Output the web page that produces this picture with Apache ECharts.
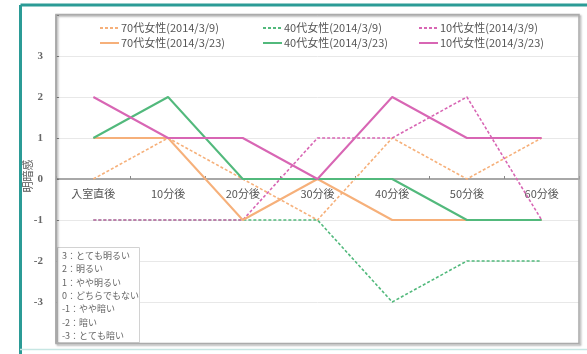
<!DOCTYPE html>
<html>
<head>
<meta charset="utf-8">
<script src="https://cdn.jsdelivr.net/npm/echarts@6/dist/echarts.min.js"></script>
<style>
html,body{margin:0;padding:0;background:#fff;}
#chart{width:587px;height:354px;}
</style>
</head>
<body>
<div id="chart"></div>
<script>
const categories = ['入室直後', '10分後', '20分後', '30分後', '40分後', '50分後', '60分後'];
const seriesNames = ['70代女性(2014/3/9)', '40代女性(2014/3/9)', '10代女性(2014/3/9)',
                     '70代女性(2014/3/23)', '40代女性(2014/3/23)', '10代女性(2014/3/23)'];
const v70_0309 = [0, 1, 0, -1, 1, 0, 1];
const v40_0309 = [-1, -1, -1, -1, -3, -2, -2];
const v10_0309 = [-1, -1, -1, 1, 1, 2, -1];
const v70_0323 = [1, 1, -1, 0, -1, -1, -1];
const v40_0323 = [1, 2, 0, 0, 0, -1, -1];
const v10_0323 = [2, 1, 1, 0, 2, 1, 1];
const yTicks = [-3, -2, -1, 0, 1, 2, 3];
const yAxisTitle = '明暗感';
const scaleNotes = ['3：とても明るい', '2：明るい', '1：やや明るい', '0：どちらでもない', '-1：やや暗い', '-2：暗い', '-3：とても暗い'];

const ORANGE = '#F6B07A', GREEN = '#52B97C', PINK = '#D866B4';
const dataSets = [v70_0309, v40_0309, v10_0309, v70_0323, v40_0323, v10_0323];
const colors = [ORANGE, GREEN, PINK, ORANGE, GREEN, PINK];

const series = dataSets.map((d, i) => {
  const dashed = i < 3;
  return {
    name: seriesNames[i],
    type: 'line',
    data: d,
    symbol: 'none',
    showSymbol: false,
    color: colors[i],
    lineStyle: { color: colors[i], width: dashed ? 1.6 : 2, type: dashed ? [3, 2] : 'solid' },
    z: 3 + i
  };
});

const legendCols = [99, 262, 418];
const legends = legendCols.map((x, c) => ({
  orient: 'vertical',
  left: x,
  top: 22,
  padding: 0,
  itemWidth: 19,
  itemHeight: 10,
  itemGap: 3,
  itemStyle: { opacity: 0 },
  data: [seriesNames[c], seriesNames[c + 3]],
  textStyle: { fontFamily: 'Noto Sans CJK JP', fontSize: 11, color: '#555', lineHeight: 12, padding: [0, 0, 0, -3] },
  selectedMode: false
}));

const GRID_TOP = 15, GRID_BOTTOM = 11, CH = 354;
const plotH = CH - GRID_TOP - GRID_BOTTOM;
const zeroOffset = -plotH / 2;

const chart = echarts.init(document.getElementById('chart'));
chart.setOption({
  animation: false,
  backgroundColor: '#fff',
  legend: legends,
  grid: { left: 56, right: 8, top: GRID_TOP, bottom: GRID_BOTTOM, containLabel: false, outerBoundsMode: 'none' },
  xAxis: {
    type: 'category',
    data: categories,
    boundaryGap: true,
    position: 'bottom',
    offset: zeroOffset,
    axisLine: { onZero: false, lineStyle: { color: '#A8A8A8', width: 2 } },
    axisTick: { show: true, inside: true, length: 3, lineStyle: { color: '#888' } },
    axisLabel: { margin: 9, fontFamily: 'Noto Sans CJK JP', fontSize: 11, color: '#555' },
    splitLine: { show: false }
  },
  yAxis: {
    type: 'value',
    min: -4, max: 4, interval: 1,
    axisLine: { show: true, lineStyle: { color: '#A8A8A8', width: 1.5 } },
    axisTick: { show: true, inside: true, length: 3, lineStyle: { color: '#888' } },
    axisLabel: {
      margin: 13, fontFamily: 'Liberation Serif', fontSize: 11, fontWeight: 'bold', color: '#666',
      formatter: v => (yTicks.indexOf(v) >= 0 ? String(v) : '')
    },
    splitLine: { show: true, lineStyle: { color: '#E8E8E8', width: 1 } }
  },
  series: series,
  graphic: [
    { type: 'line', shape: { x1: 20.5, y1: 5, x2: 587, y2: 5 }, style: { stroke: '#2B9B96', lineWidth: 3 }, z: 100 },
    { type: 'line', shape: { x1: 20.5, y1: 5, x2: 20.5, y2: 354 }, style: { stroke: '#2B9B96', lineWidth: 3 }, z: 100 },
    { type: 'line', shape: { x1: 20, y1: 349.5, x2: 587, y2: 349.5 }, style: { stroke: '#C6E6E3', lineWidth: 1.5 }, z: 100 },
    { type: 'rect', shape: { x: 56, y: 14.5, width: 523, height: 329 },
      style: { fill: null, stroke: '#ABABAB', lineWidth: 1.5, shadowColor: 'rgba(0,0,0,0.35)', shadowBlur: 2, shadowOffsetX: 1.5, shadowOffsetY: 1.5 }, z: 50 },
    { type: 'text', x: 28, y: 176, rotation: Math.PI / 2,
      style: { text: yAxisTitle, fontFamily: 'Noto Sans CJK JP', fontSize: 11, fill: '#555', align: 'center', verticalAlign: 'middle' }, z: 60 },
    { type: 'rect', shape: { x: 57.5, y: 247.5, width: 82, height: 95 },
      style: { fill: '#fff', stroke: '#D2D2D2', lineWidth: 1 }, z: 40 },
    { type: 'text', x: 62, y: 249,
      style: { text: scaleNotes.join('\n'), fontFamily: 'Noto Sans CJK JP', fontSize: 9, lineHeight: 13.3, fill: '#666', align: 'left', verticalAlign: 'top' }, z: 41 }
  ]
});
</script>
</body>
</html>
